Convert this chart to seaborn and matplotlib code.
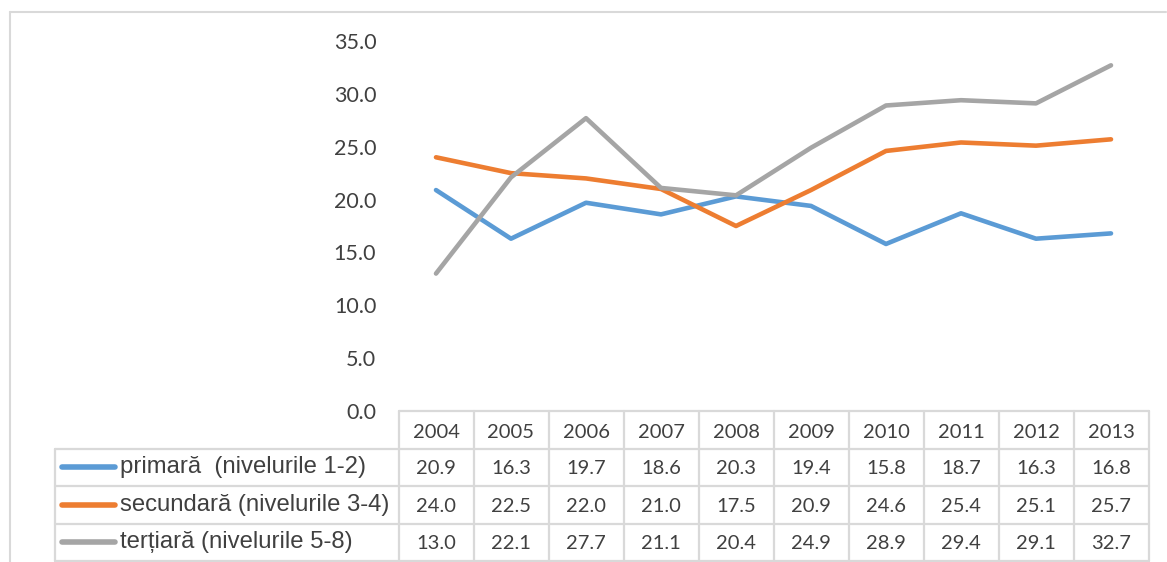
import matplotlib
matplotlib.use("Agg")
import matplotlib.pyplot as plt
from matplotlib.lines import Line2D
import seaborn as sns
import pandas as pd

years = ["2004", "2005", "2006", "2007", "2008", "2009", "2010", "2011", "2012", "2013"]
series_names = ["primară  (nivelurile 1-2)", "secundară (nivelurile 3-4)", "terțiară (nivelurile 5-8)"]
primara = [20.9, 16.3, 19.7, 18.6, 20.3, 19.4, 15.8, 18.7, 16.3, 16.8]
secundara = [24.0, 22.5, 22.0, 21.0, 17.5, 20.9, 24.6, 25.4, 25.1, 25.7]
tertiara = [13.0, 22.1, 27.7, 21.1, 20.4, 24.9, 28.9, 29.4, 29.1, 32.7]
y_ticks = [0.0, 5.0, 10.0, 15.0, 20.0, 25.0, 30.0, 35.0]
colors = ["#5B9BD5", "#ED7D31", "#A5A5A5"]

sns.set_theme(style="white")
plt.rcParams["font.family"] = ["Lato", "DejaVu Sans"]

W, H = 1167, 562
fig = plt.figure(figsize=(W / 100, H / 100), dpi=100)

# main plot area
L, R, T, B = 398.5, 1148.5, 41, 411
ax = fig.add_axes([L / W, (H - B) / H, (R - L) / W, (B - T) / H])
rows = []
for name, vals in zip(series_names, [primara, secundara, tertiara]):
    for i, v in enumerate(vals):
        rows.append({"idx": i, "val": v, "serie": name})
df = pd.DataFrame(rows)
sns.lineplot(data=df, x="idx", y="val", hue="serie", palette=colors, ax=ax,
             linewidth=3.3, legend=False, solid_capstyle="round")
ax.set_xlim(-0.5, len(years) - 0.5)
ax.set_ylim(0, 35)
ax.set_yticks(y_ticks)
ax.set_yticklabels([f"{t:.1f}" for t in y_ticks], fontsize=15.5, color="#404040")
ax.set_xticks([])
ax.set_xlabel("")
ax.set_ylabel("")
ax.tick_params(axis="y", length=0, pad=16)
for s in ax.spines.values():
    s.set_visible(False)
ax.patch.set_alpha(0)

# data table
TL, TB = 55, 561
tab = fig.add_axes([TL / W, (H - TB) / H, (R - TL) / W, (TB - B) / H])
left_units = (L - TL) / 75.0
x0 = -0.5 - left_units
tab.set_xlim(x0, len(years) - 0.5)
tab.set_ylim(4, 0)
tab.axis("off")
gc = "#D9D9D9"
lw = 1.6
tab.plot([-0.5, len(years) - 0.5], [0, 0], color=gc, lw=lw, clip_on=False)
for r in [1, 2, 3, 4]:
    tab.plot([x0, len(years) - 0.5], [r, r], color=gc, lw=lw, clip_on=False)
tab.plot([x0, x0], [1, 4], color=gc, lw=lw, clip_on=False)
for c in range(len(years) + 1):
    tab.plot([c - 0.5, c - 0.5], [0, 4], color=gc, lw=lw, clip_on=False)
for i, y in enumerate(years):
    tab.text(i, 0.58, y, ha="center", va="center", fontsize=14.5, color="#404040")
for r, (name, vals, col) in enumerate(zip(series_names, [primara, secundara, tertiara], colors)):
    yy = r + 1.5
    tab.plot([x0 + 0.1, x0 + 0.8], [yy, yy], color=col, lw=4, solid_capstyle="round", clip_on=False)
    tab.text(x0 + 0.86, yy, name, ha="left", va="center", fontsize=17.2,
             family=["Liberation Sans", "DejaVu Sans"], color="#404040")
    for i, v in enumerate(vals):
        tab.text(i, yy + 0.04, f"{v:.1f}", ha="center", va="center", fontsize=14.5, color="#404040")

# outer frame (top and left)
fig.add_artist(Line2D([9.5 / W, 1166 / W], [1 - 12 / H, 1 - 12 / H], color=gc, lw=1.5))
fig.add_artist(Line2D([9.5 / W, 9.5 / W], [1 - 12 / H, 0], color=gc, lw=1.5))

fig.savefig("out.png", dpi=100)
